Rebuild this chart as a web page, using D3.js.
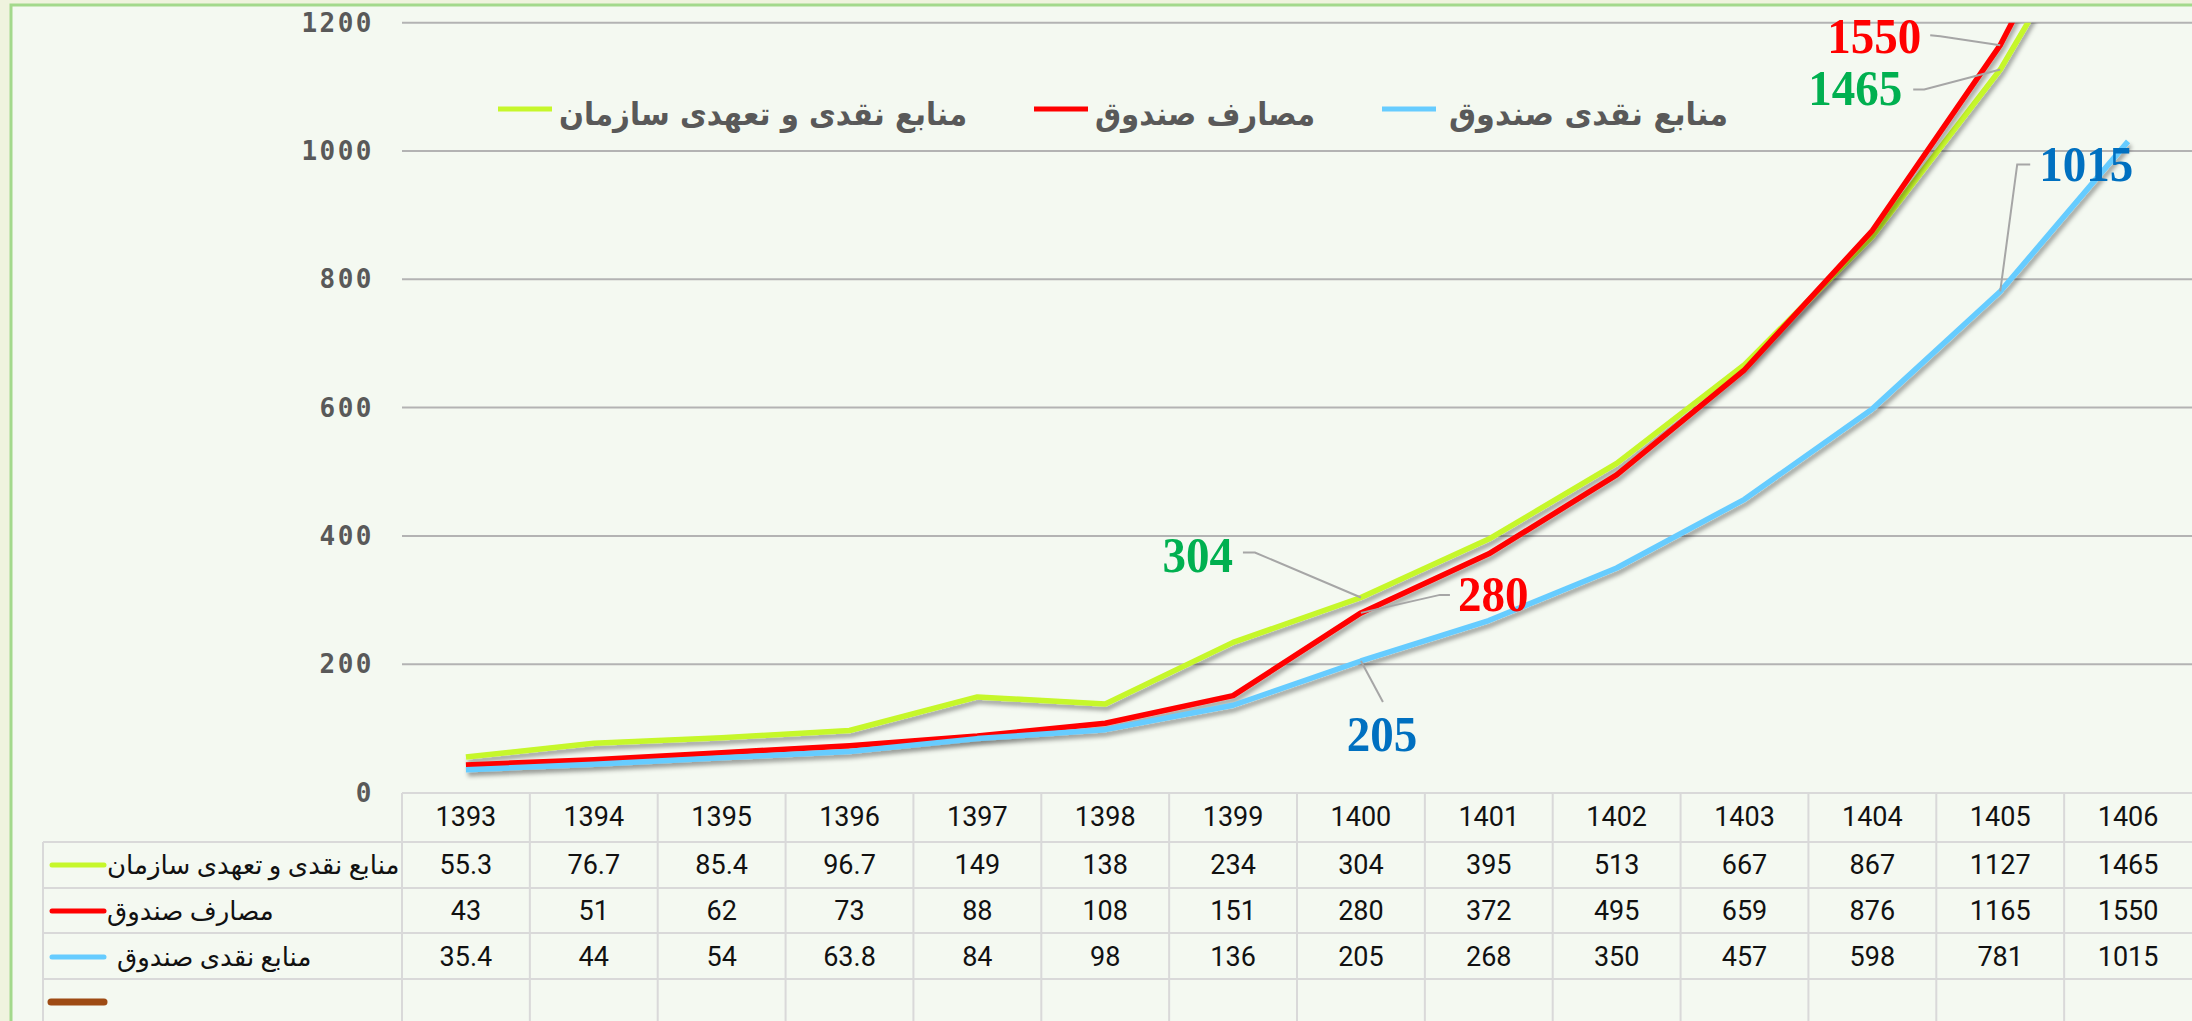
<!DOCTYPE html>
<html>
<head>
<meta charset="utf-8">
<script src="https://cdn.jsdelivr.net/npm/d3@7"></script>
<style>
  html, body { margin: 0; padding: 0; background: #eff3de; overflow: hidden; }
  svg { display: block; }
</style>
</head>
<body>
<svg id="chart" width="2192" height="1021"></svg>
<script>
// data
var years = ["1393","1394","1395","1396","1397","1398","1399","1400","1401","1402","1403","1404","1405","1406"];
var orgResources = [55.3, 76.7, 85.4, 96.7, 149, 138, 234, 304, 395, 513, 667, 867, 1127, 1465];
var fundCosts = [43, 51, 62, 73, 88, 108, 151, 280, 372, 495, 659, 876, 1165, 1550];
var fundResources = [35.4, 44, 54, 63.8, 84, 98, 136, 205, 268, 350, 457, 598, 781, 1015];
var seriesNames = ["منابع نقدی و تعهدی سازمان", "مصارف صندوق", " منابع نقدی صندوق"];
var yTicks = [0, 200, 400, 600, 800, 1000, 1200];

var seriesValues = [orgResources, fundCosts, fundResources];
var seriesColors = ["#c6f72b", "#ff0000", "#66ccff"];
var labelColors = ["#00b050", "#ff0000", "#0070c0"];

// label placement, relative to the point the leader points at
var labels = [
  {s: 0, i: 7,  text: "304",  dx: -128, dy: -25, anchor: "end",    leader: [[-118, -45], [-106, -45]]},
  {s: 1, i: 7,  text: "280",  dx: 97,   dy: -2,  anchor: "start",  leader: [[89, -18], [79, -18]]},
  {s: 2, i: 7,  text: "205",  dx: 21,   dy: 90,  anchor: "middle", leader: [[22, 41]]},
  {s: 1, i: 12, text: "1550", dx: -79,  dy: 8,   anchor: "end",    leader: [[-70, -10], [-60, -9]]},
  {s: 0, i: 12, text: "1465", dx: -98,  dy: 35,  anchor: "end",    leader: [[-87, 20], [-76, 20]]},
  {s: 2, i: 12, text: "1015", dx: 39,   dy: -110, anchor: "start", leader: [[30, -127], [17, -127]]}
];

var svg = d3.select("#chart");
var W = 2192, H = 1021;
var plotLeft = 402, plotRight = 2192, plotTop = 22.7, plotBottom = 792.5;
var tableLeft = 43;
var rowLines = [793, 842, 888, 933, 979];

// background panel and its border
svg.append("rect").attr("x", 11).attr("y", 5).attr("width", W - 11).attr("height", H - 5)
  .attr("fill", "#f4f9f1");
svg.append("path").attr("d", "M11," + H + "V5H" + W)
  .attr("fill", "none").attr("stroke", "#a3d98c").attr("stroke-width", 3);

var defs = svg.append("defs");
var f = defs.append("filter").attr("id", "shadow")
  .attr("x", "-5%").attr("y", "-5%").attr("width", "110%").attr("height", "120%");
f.append("feGaussianBlur").attr("in", "SourceAlpha").attr("stdDeviation", 2.2).attr("result", "b");
f.append("feOffset").attr("in", "b").attr("dx", 2).attr("dy", 4).attr("result", "o");
f.append("feFlood").attr("flood-color", "#000").attr("flood-opacity", 0.35);
f.append("feComposite").attr("in2", "o").attr("operator", "in").attr("result", "s");
var fm = f.append("feMerge");
fm.append("feMergeNode").attr("in", "s");
fm.append("feMergeNode").attr("in", "SourceGraphic");

defs.append("clipPath").attr("id", "plotclip").append("rect")
  .attr("x", plotLeft).attr("y", plotTop).attr("width", plotRight - plotLeft).attr("height", plotBottom - plotTop + 20);

var x = d3.scaleBand().domain(years).range([plotLeft, plotRight]);
var y = d3.scaleLinear().domain([0, 1200]).range([plotBottom, plotTop]);
var cx = function (d) { return x(d) + x.bandwidth() / 2; };

// gridlines
svg.append("g").selectAll("line").data(yTicks.filter(function (t) { return t > 0; }))
  .join("line")
  .attr("x1", plotLeft).attr("x2", plotRight)
  .attr("y1", function (d) { return y(d); }).attr("y2", function (d) { return y(d); })
  .attr("stroke", "#b3b3b3").attr("stroke-width", 2);

// y axis labels
svg.append("g").selectAll("text").data(yTicks).join("text")
  .attr("x", 374).attr("y", function (d) { return y(d); })
  .attr("text-anchor", "end").attr("dominant-baseline", "central")
  .attr("font-family", "'DejaVu Sans Mono', monospace").attr("font-weight", "bold")
  .attr("font-size", "26px").attr("letter-spacing", "2.5px")
  .attr("fill", "#595959")
  .text(function (d) { return d; });

// series lines
var line = d3.line()
  .x(function (d, i) { return cx(years[i]); })
  .y(function (d) { return y(d); });

var lines = svg.append("g").attr("clip-path", "url(#plotclip)");
seriesValues.forEach(function (vals, s) {
  lines.append("path").datum(vals)
    .attr("d", line)
    .attr("fill", "none")
    .attr("stroke", seriesColors[s])
    .attr("stroke-width", 5.5)
    .attr("stroke-linejoin", "round")
    .attr("filter", "url(#shadow)");
});

// data labels with leader lines
labels.forEach(function (l) {
  var px = cx(years[l.i]), py = y(seriesValues[l.s][l.i]);
  var pts = l.leader.map(function (p) { return [px + p[0], py + p[1]]; });
  pts.push([px, py]);
  svg.append("path").attr("d", d3.line()(pts))
    .attr("fill", "none").attr("stroke", "#a6a6a6").attr("stroke-width", 2);
  svg.append("text")
    .attr("x", px + l.dx).attr("y", py + l.dy)
    .attr("text-anchor", l.anchor)
    .attr("font-family", "'Liberation Serif', 'Times New Roman', serif")
    .attr("font-weight", "bold").attr("font-size", "51px")
    .attr("textLength", l.text.length * 23.5).attr("lengthAdjust", "spacingAndGlyphs")
    .attr("fill", labelColors[l.s])
    .text(l.text);
});

// legend at the top
var legendKeys = [498, 1034, 1382];
var legendTextEnd = [967, 1315, 1728];
var legendWidth = [408, 220, 279];
seriesNames.forEach(function (name, s) {
  svg.append("line")
    .attr("x1", legendKeys[s]).attr("x2", legendKeys[s] + 54)
    .attr("y1", 109).attr("y2", 109)
    .attr("stroke", seriesColors[s]).attr("stroke-width", 5);
  var t = svg.append("text")
    .attr("x", legendTextEnd[s]).attr("y", 125)
    .attr("text-anchor", "end")
    .attr("font-family", "'DejaVu Sans', sans-serif").attr("font-weight", "bold")
    .attr("font-size", "32px").attr("fill", "#595959")
    .text(name.trim());
  var w = t.node().getComputedTextLength();
  if (w > 0) t.attr("textLength", legendWidth[s]).attr("lengthAdjust", "spacingAndGlyphs");
});

// data table under the plot
var grid = svg.append("g").attr("stroke", "#d9d9d9").attr("stroke-width", 2);
rowLines.forEach(function (ry, k) {
  grid.append("line").attr("x1", k === 0 ? plotLeft : tableLeft).attr("x2", plotRight)
    .attr("y1", ry).attr("y2", ry);
});
grid.append("line").attr("x1", tableLeft).attr("x2", tableLeft).attr("y1", rowLines[1]).attr("y2", H);
years.forEach(function (yr) {
  grid.append("line").attr("x1", x(yr)).attr("x2", x(yr)).attr("y1", rowLines[0]).attr("y2", H);
});

var tableFont = "Roboto, 'DejaVu Sans', sans-serif";
svg.append("g").selectAll("text").data(years).join("text")
  .attr("x", function (d) { return cx(d); }).attr("y", 817)
  .attr("text-anchor", "middle").attr("dominant-baseline", "central")
  .attr("font-family", tableFont).attr("font-size", "27px").attr("fill", "#111")
  .text(function (d) { return d; });

var rowMid = [865, 911, 957];
seriesValues.forEach(function (vals, s) {
  svg.append("g").selectAll("text").data(vals).join("text")
    .attr("x", function (d, i) { return cx(years[i]); }).attr("y", rowMid[s])
    .attr("text-anchor", "middle").attr("dominant-baseline", "central")
    .attr("font-family", tableFont).attr("font-size", "27px").attr("fill", "#111")
    .text(function (d) { return d; });
  svg.append("line").attr("x1", 52).attr("x2", 104).attr("y1", rowMid[s]).attr("y2", rowMid[s])
    .attr("stroke", seriesColors[s]).attr("stroke-width", 5).attr("stroke-linecap", "round");
  svg.append("text")
    .attr("x", s === 2 ? 117 : 107).attr("y", rowMid[s])
    .attr("text-anchor", "start").attr("dominant-baseline", "central")
    .attr("font-family", tableFont).attr("font-size", "26px").attr("fill", "#111")
    .text(seriesNames[s].trim());
});
// empty fourth row keeps only its brown key
svg.append("line").attr("x1", 51).attr("x2", 104).attr("y1", 1002).attr("y2", 1002)
  .attr("stroke", "#9e4b14").attr("stroke-width", 7).attr("stroke-linecap", "round");
</script>
</body>
</html>
